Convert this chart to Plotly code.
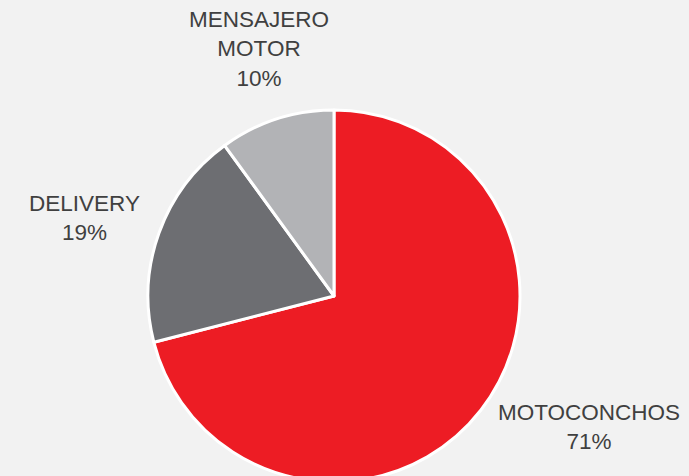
import plotly.graph_objects as go

categories = ["MOTOCONCHOS", "DELIVERY", "MENSAJERO MOTOR"]
display_labels = ["MOTOCONCHOS", "DELIVERY", "MENSAJERO<br>MOTOR"]
values = [71, 19, 10]
colors = ["#ED1C24", "#6D6E72", "#B2B3B6"]

# figure is slightly taller than the 476px window so the bottom of the pie is cut off, as in the original
W, H = 689, 482
ML, MR, MT, MB = 0, 21, 110, 0

# label block centres (pixels) for each slice
label_px = [(589, 427), (84, 218), (259, 49)]

def to_paper(px, py):
    return (px - ML) / (W - ML - MR), 1 - (py - MT) / (H - MT - MB)

fig = go.Figure(go.Pie(
    labels=categories,
    values=values,
    sort=False,
    direction="clockwise",
    rotation=0,
    marker=dict(colors=colors, line=dict(color="white", width=3)),
    textinfo="none",
    hoverinfo="label+percent",
    showlegend=False,
))

total = sum(values)
for lab, v, (px, py) in zip(display_labels, values, label_px):
    x, y = to_paper(px, py)
    fig.add_annotation(
        x=x, y=y, xref="paper", yref="paper",
        text=f"{lab}<br>{round(100 * v / total)}%",
        showarrow=False, xanchor="center", yanchor="middle",
        font=dict(family="Liberation Sans, Arial, sans-serif", size=22.5, color="#404040"),
    )

fig.update_layout(
    width=W, height=H,
    margin=dict(l=ML, r=MR, t=MT, b=MB),
    paper_bgcolor="#F2F2F2",
    plot_bgcolor="#F2F2F2",
)

fig.write_html(
    "out.html",
    config={"displayModeBar": False},
    post_script="document.body.style.margin='0';document.body.style.background='#F2F2F2';document.body.style.overflow='hidden';",
)
